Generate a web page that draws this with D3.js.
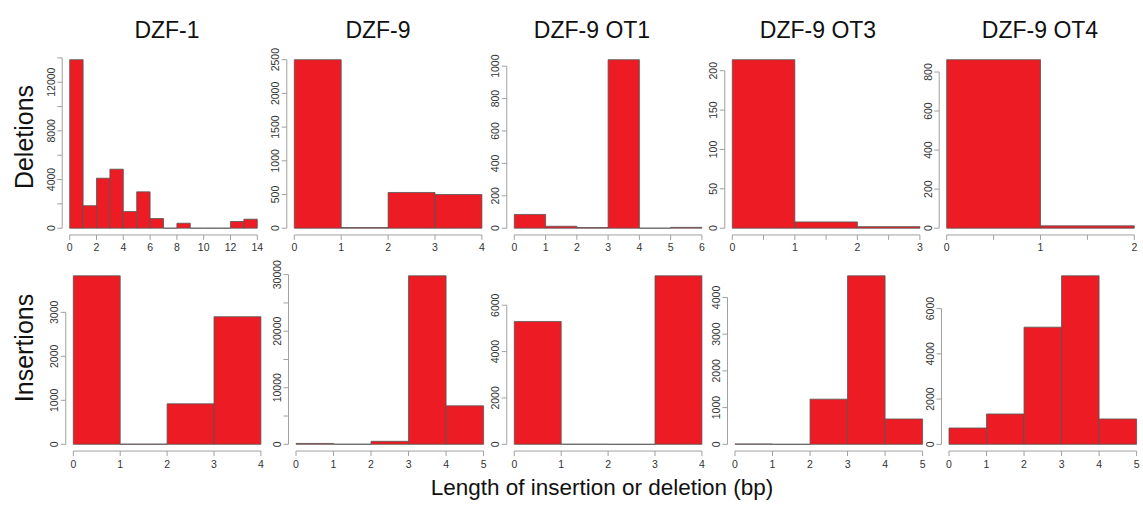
<!DOCTYPE html>
<html>
<head>
<meta charset="utf-8">
<script src="https://cdn.jsdelivr.net/npm/d3@7"></script>
<style>
  html, body { margin: 0; padding: 0; background: #fff; }
  svg { display: block; font-family: "Liberation Sans", Arial, sans-serif; }
</style>
</head>
<body>
<svg id="chart" width="1143" height="505"></svg>
<script>
// ---------- data (counts per 1-bp bin, starting at 0) ----------
const titles = ["DZF-1", "DZF-9", "DZF-9 OT1", "DZF-9 OT3", "DZF-9 OT4"];
const rowLabels = ["Deletions", "Insertions"];
const xAxisTitle = "Length of insertion or deletion (bp)";

const delDZF1 = [13850, 1850, 4110, 4850, 1370, 2990, 795, 0, 410, 0, 0, 0, 550, 740];
const delDZF9 = [2500, 10, 530, 500];
const delOT1  = [85, 12, 4, 1040, 0, 5];
const delOT3  = [214, 8, 2];
const delOT4  = [863, 12];

const insDZF1 = [3830, 5, 920, 2900];
const insDZF9 = [150, 20, 530, 29800, 6800];
const insOT1  = [5300, 5, 0, 7270];
const insOT3  = [10, 0, 1230, 4590, 690];
const insOT4  = [720, 1340, 5180, 7450, 1120];

const counts = [
  [delDZF1, delDZF9, delOT1, delOT3, delOT4],
  [insDZF1, insDZF9, insOT1, insOT3, insOT4]
];

// tick steps (y ticks, every k-th labelled; x ticks, label step)
const yTickStep   = [[2000, 500, 200, 50, 200], [1000, 5000, 2000, 1000, 2000]];
const yLabelEvery = [[2, 1, 1, 1, 1], [1, 2, 1, 1, 1]];
const xTickStep   = [[2, 1, 1, 0.5, 0.5], [1, 1, 1, 1, 1]];
const xLabelStep  = [[2, 1, 1, 1, 1], [1, 1, 1, 1, 1]];

// ---------- layout ----------
const dataX0 = [[69.7, 294.3, 514.3, 732.3, 946.7], [73.3, 296, 514.3, 735, 949]];
const dataW = 187.6;
const rowZeroY = [228.2, 444.3];
const maxBarH = 168.5;
const titleX = [167, 378, 592, 818, 1040];

const svg = d3.select("#chart");
const red = "#ED1C24";
const axisCol = "#a0a0a0";
const labCol = "#333";

counts.forEach((row, r) => {
  row.forEach((vals, c) => {
    const n = vals.length;
    const ymax = d3.max(vals);
    const padX = n * 0.04;
    const left = dataX0[r][c] - dataW * 0.04;
    const right = dataX0[r][c] + dataW * 1.04;
    const bottom = rowZeroY[r] + maxBarH * 0.04;
    const top = rowZeroY[r] - maxBarH * 1.04;

    const x = d3.scaleLinear().domain([-padX, n + padX]).range([left, right]);
    const y = d3.scaleLinear().domain([-0.04 * ymax, 1.04 * ymax]).range([bottom, top]);

    const g = svg.append("g");

    // bars (paths so that zero-height bins still show a line)
    g.selectAll("path.bar").data(vals).join("path")
      .attr("class", "bar")
      .attr("d", (v, i) => {
        const p = d3.path();
        const x0 = x(i), x1 = x(i + 1), y0 = y(0), y1 = y(v);
        p.moveTo(x0, y0); p.lineTo(x0, y1); p.lineTo(x1, y1); p.lineTo(x1, y0); p.closePath();
        return p.toString();
      })
      .attr("fill", red)
      .attr("stroke", "#555")
      .attr("stroke-width", 0.8);

    // x axis
    const xt = d3.range(0, n + 1e-9, xTickStep[r][c]);
    const axY = bottom;
    g.append("line").attr("x1", x(0)).attr("x2", x(n)).attr("y1", axY).attr("y2", axY)
      .attr("stroke", axisCol).attr("stroke-width", 1);
    g.selectAll("line.xt").data(xt).join("line").attr("class", "xt")
      .attr("x1", d => x(d)).attr("x2", d => x(d)).attr("y1", axY).attr("y2", axY + 5)
      .attr("stroke", axisCol).attr("stroke-width", 1);
    const xl = xt.filter(d => Math.abs(d / xLabelStep[r][c] - Math.round(d / xLabelStep[r][c])) < 1e-9);
    g.selectAll("text.xl").data(xl).join("text").attr("class", "xl")
      .attr("x", d => x(d)).attr("y", axY + 16.5)
      .attr("text-anchor", "middle").attr("font-size", 10.5).attr("fill", labCol)
      .text(d => d3.format("d")(d));

    // y axis
    const ys = yTickStep[r][c];
    const yt = d3.range(0, 1.04 * ymax + 1e-9, ys);
    const axX = left;
    g.append("line").attr("x1", axX).attr("x2", axX).attr("y1", y(0)).attr("y2", y(yt[yt.length - 1]))
      .attr("stroke", axisCol).attr("stroke-width", 1);
    g.selectAll("line.yt").data(yt).join("line").attr("class", "yt")
      .attr("x1", axX - 5).attr("x2", axX).attr("y1", d => y(d)).attr("y2", d => y(d))
      .attr("stroke", axisCol).attr("stroke-width", 1);
    const yl = yt.filter((d, i) => i % yLabelEvery[r][c] === 0);
    g.selectAll("text.yl").data(yl).join("text").attr("class", "yl")
      .attr("transform", d => `translate(${axX - 7.5},${y(d)}) rotate(-90)`)
      .attr("text-anchor", "middle").attr("font-size", 10.5).attr("fill", labCol)
      .text(d => d3.format("d")(d));
  });
});

// column titles
svg.selectAll("text.title").data(titles).join("text").attr("class", "title")
  .attr("x", (d, i) => titleX[i]).attr("y", 38)
  .attr("text-anchor", "middle").attr("font-size", 23).attr("fill", "#111")
  .text(d => d);

// row labels
const rowLabelY = [137, 348];
svg.selectAll("text.rowlab").data(rowLabels).join("text").attr("class", "rowlab")
  .attr("transform", (d, i) => `translate(33,${rowLabelY[i]}) rotate(-90)`)
  .attr("text-anchor", "middle").attr("font-size", 25).attr("fill", "#111")
  .text(d => d);

// shared x title
svg.append("text").attr("x", 602).attr("y", 495)
  .attr("text-anchor", "middle").attr("font-size", 22.5).attr("fill", "#111")
  .text(xAxisTitle);
</script>
</body>
</html>
